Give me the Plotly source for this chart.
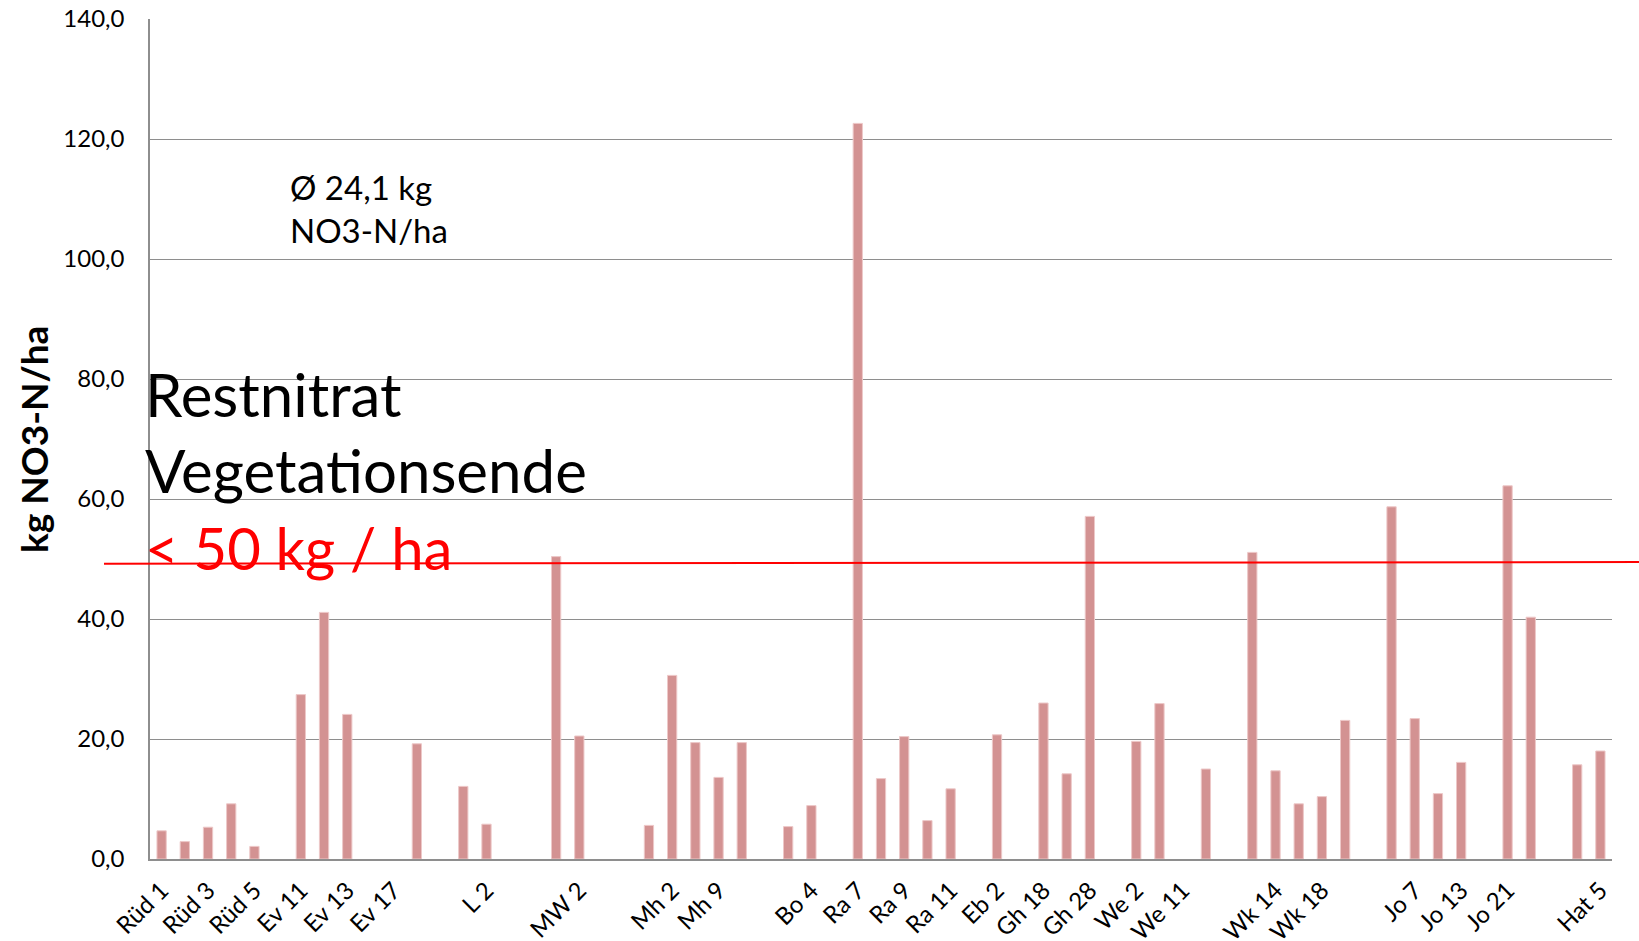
import plotly.graph_objects as go

# ---- data ----
# 63 category slots; labels shown on every second slot ("" = no visible label)
tick_slots = list(range(0, 63, 2))
tick_labels = ["Rüd 1", "Rüd 3", "Rüd 5", "Ev 11", "Ev 13", "Ev 17", "", "L 2",
               "", "MW 2", "", "Mh 2", "Mh 9", "", "Bo 4", "Ra 7",
               "Ra 9", "Ra 11", "Eb 2", "Gh 18", "Gh 28", "We 2", "We 11", "",
               "Wk 14", "Wk 18", "", "Jo 7", "Jo 13", "Jo 21", "", "Hat 5"]

# NO3-N values per slot (None = no sample)
values = [4.7, 2.9, 5.3, 9.2, 2.1, None, 27.4, 41.1, 24.1, None,
          None, 19.2, None, 12.1, 5.8, None, None, 50.4, 20.5, None,
          None, 5.6, 30.6, 19.4, 13.6, 19.4, None, 5.4, 8.9, None,
          122.6, 13.4, 20.4, 6.4, 11.7, None, 20.7, None, 26.0, 14.2,
          57.1, None, 19.6, 25.9, None, 15.0, None, 51.1, 14.7, 9.2,
          10.4, 23.1, None, 58.7, 23.4, 10.9, 16.1, None, 62.2, 40.3,
          None, 15.7, 18.0]
slots = list(range(len(values)))

limit_value = 49.3
mean_text = "Ø 24,1 kg"
mean_unit = "NO3-N/ha"

# ---- layout geometry (pixels) ----
W, H = 1639, 941
L, R, T, B = 150, 27, 19, 82
PW, PH = W - L - R, H - T - B


def px(x):
    return (x - L) / PW


def py(y):
    return (H - B - y) / PH


FONT = "Lato, 'Open Sans', sans-serif"
GRID = "#8E8E8E"

fig = go.Figure()
fig.add_trace(go.Bar(
    x=slots, y=values, width=0.4,
    marker=dict(color="#D39292", line=dict(color="#EDC8C8", width=1)),
    hoverinfo="x+y",
))

annotations = [
    dict(text=mean_text, x=px(288), y=py(187), xanchor="left", yanchor="middle",
         font=dict(size=33, color="black", family=FONT)),
    dict(text=mean_unit, x=px(288), y=py(230), xanchor="left", yanchor="middle",
         font=dict(size=33, color="black", family=FONT)),
    dict(text="Restnitrat", x=px(143), y=py(394), xanchor="left", yanchor="middle",
         font=dict(size=60, color="black", family=FONT)),
    dict(text="Vegetationsende", x=px(143), y=py(470), xanchor="left", yanchor="middle",
         font=dict(size=60, color="black", family=FONT)),
    dict(text="&lt; 50 kg / ha", x=px(143), y=py(547), xanchor="left", yanchor="middle",
         font=dict(size=58, color="#FF0000", family=FONT)),
    dict(text="<b>kg NO3-N/ha</b>", x=px(33), y=py(439), xanchor="center", yanchor="middle",
         textangle=-90, font=dict(size=37, color="black", family=FONT)),
]
for a in annotations:
    a.update(xref="paper", yref="paper", showarrow=False)

fig.update_layout(
    width=W, height=H,
    margin=dict(l=L, r=R, t=T, b=B, pad=0, autoexpand=False),
    paper_bgcolor="white", plot_bgcolor="white",
    separators=", ",
    showlegend=False,
    bargap=0.6,
    font=dict(family=FONT, color="black"),
    annotations=annotations,
    shapes=[dict(type="line", xref="paper", yref="y",
                 x0=px(104), x1=px(1639), y0=limit_value - 0.1, y1=limit_value + 0.2,
                 line=dict(color="#FF0000", width=2))],
)
fig.update_xaxes(
    range=[-0.5, len(values) - 0.5], automargin=False,
    tickmode="array", tickvals=tick_slots, ticktext=tick_labels,
    tickangle=-45, tickfont=dict(size=24, family=FONT, color="black"),
    showgrid=False, zeroline=False,
    showline=True, linecolor=GRID, linewidth=1.5,
    ticks="", ticklabelstandoff=6,
)
fig.update_yaxes(
    range=[0, 140], dtick=20, tick0=0, tickformat=".1f", automargin=False,
    tickfont=dict(size=24, family=FONT, color="black"),
    showgrid=True, gridcolor=GRID, gridwidth=1.3,
    zeroline=False, showline=True, linecolor=GRID, linewidth=1.5,
    ticks="", ticklabelstandoff=19,
)

fig.write_html("out.html", config={"displayModeBar": False},
               post_script="document.body.style.margin='0';")
